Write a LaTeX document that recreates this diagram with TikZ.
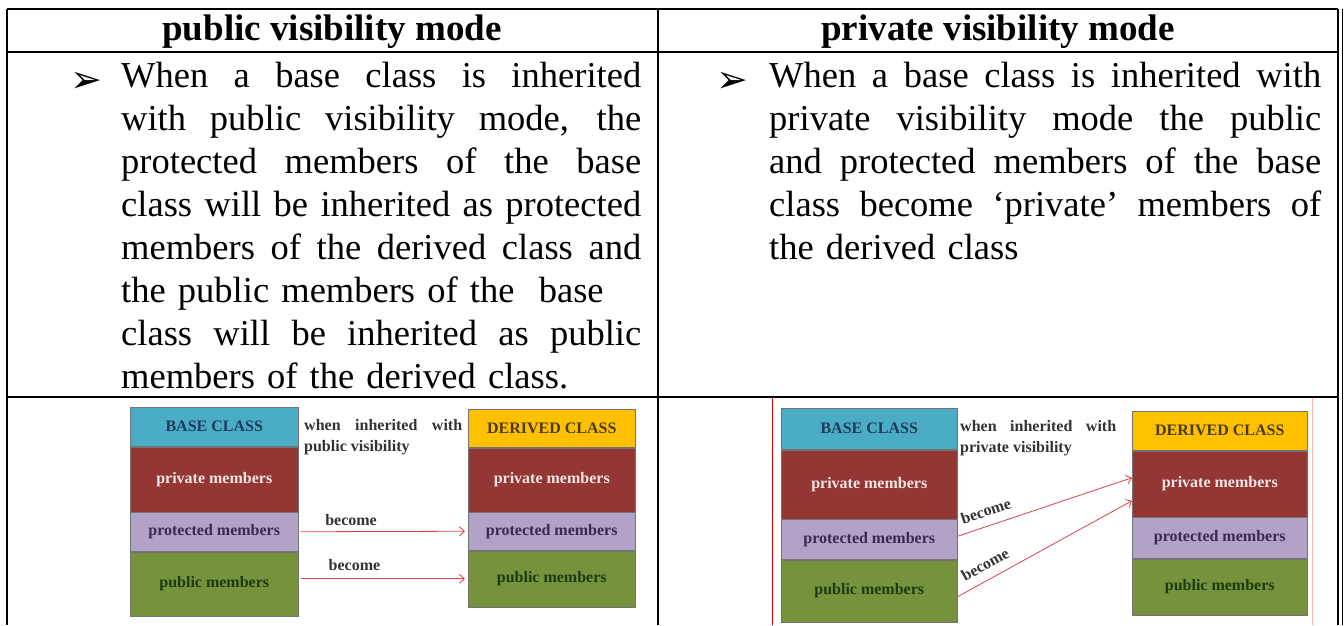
\documentclass[tikz,border=0pt]{standalone}
\usepackage{fontspec}
\setmainfont{Liberation Serif}
\newfontfamily\dejavu{DejaVu Sans}
\usetikzlibrary{positioning,arrows.meta}

\definecolor{baseblue}{HTML}{4BACC6}
\definecolor{privred}{HTML}{943634}
\definecolor{protlav}{HTML}{B3A2C7}
\definecolor{pubgreen}{HTML}{76923C}
\definecolor{derivgold}{HTML}{FFC000}
\definecolor{linkred}{HTML}{D9434B}
\definecolor{basetxt}{HTML}{1F3A5A}
\definecolor{privtxt}{HTML}{F6E6E2}
\definecolor{prottxt}{HTML}{3B2A50}
\definecolor{pubtxt}{HTML}{1E3A10}
\definecolor{derivtxt}{HTML}{4A3A10}

% one justified line of the paragraph
\newcommand{\fullline}[1]{\makebox[\hsize][s]{\spaceskip=0pt\xspaceskip=0pt\relax #1}}

\begin{document}
\begin{tikzpicture}[x=1pt, y=-1pt, node distance=0pt, >={Straight Barb[length=5pt,width=9pt]},
    rule/.style={line width=2pt},
    head/.style={font=\fontsize{37}{43}\selectfont\bfseries, anchor=base, inner sep=0pt},
    para/.style={font=\fontsize{36.5}{43}\selectfont, anchor=north west, inner sep=0pt, align=left},
    bulletmark/.style={font=\dejavu\fontsize{38}{38}\selectfont, inner sep=0pt},
    layer/.style={draw=black!55, line width=0.5pt, inner sep=0pt, font=\fontsize{16}{18}\selectfont\bfseries},
    note/.style={font=\fontsize{16}{21}\selectfont\bfseries, text=black!80, inner sep=0pt, align=left, anchor=north west},
    link/.style={->, draw=linkred, line width=0.8pt},
    tag/.style={font=\fontsize{16}{18}\selectfont\bfseries, text=black!80, inner sep=2pt}]
    \useasboundingbox (0,0) rectangle (1344,625);
    % Table rules
    \draw[rule] (7,9) -- (1338,9);
    \draw[rule] (7,52) -- (1338,52);
    \draw[rule] (7,397) -- (1338,397);
    \draw[rule] (7,9) -- (7,625);
    \draw[rule] (658,9) -- (658,625);
    \draw[rule] (1338,9) -- (1338,625);
    \draw[line width=0.8pt] (1342,9) -- (1342,625);
    % Headings
    \node[head] (pubhead) at (332,40) {public visibility mode};
    \node[head] (privhead) at (998,40) {private visibility mode};
    % Bullet texts
    \node[bulletmark] (pubmark) at (86,82) {➢};
    \node[para, text width=520pt] (pubtext) at (121,57) {\strut\fullline{When a base class is inherited}\\
        \fullline{with public visibility mode, the}\\
        \fullline{protected members of the base}\\
        \fullline{class will be inherited as protected}\\
        \fullline{members of the derived class and}\\
        the public members of the~~base\\
        \fullline{class will be inherited as public}\\
        members of the derived class.};
    \node[bulletmark] (privmark) at (732,82) {➢};
    \node[para, text width=552pt] (privtext) at (769,57) {\strut\fullline{When a base class is inherited with}\\
        \fullline{private visibility mode the public}\\
        \fullline{and protected members of the base}\\
        \fullline{class become ‘private’ members of}\\
        the derived class};
    % Public inheritance picture
    \node[layer, fill=baseblue, text=basetxt, minimum width=168pt, minimum height=39pt, anchor=north west] (lbase) at (130,407) {BASE CLASS};
    \node[layer, fill=privred, text=privtxt, minimum width=168pt, minimum height=65pt, below=of lbase] (lpriv) {private members};
    \node[layer, fill=protlav, text=prottxt, minimum width=168pt, minimum height=39pt, below=of lpriv] (lprot) {protected members};
    \node[layer, fill=pubgreen, text=pubtxt, minimum width=168pt, minimum height=64pt, below=of lprot] (lpub) {public members};
    \node[layer, fill=derivgold, text=derivtxt, minimum width=167pt, minimum height=38pt, anchor=north west] (lderiv) at (468,409) {DERIVED CLASS};
    \node[layer, fill=privred, text=privtxt, minimum width=167pt, minimum height=64pt, below=of lderiv] (ldpriv) {private members};
    \node[layer, fill=protlav, text=prottxt, minimum width=167pt, minimum height=38pt, below=of ldpriv] (ldprot) {protected members};
    \node[layer, fill=pubgreen, text=pubtxt, minimum width=167pt, minimum height=56pt, below=of ldprot] (ldpub) {public members};
    \node[note] (lnote) at (304,419) {\makebox[158pt][s]{when inherited with}\\public visibility};
    \draw[link, shorten <=2pt, shorten >=3pt] (lprot.east) -- node[tag, above=4pt, pos=0.31] (lbecome1) {become} (ldprot.west);
    \draw[link, shorten <=2pt, shorten >=3pt] (lpub.east |- ldpub.west) -- node[tag, above=6pt, pos=0.33] (lbecome2) {become} (ldpub.west);
    % Private inheritance picture
    \draw[draw=red!80!black, line width=0.8pt] (772,398) -- (772,625);
    \draw[draw=red!30, line width=0.8pt] (1312,398) -- (1312,625);
    \node[layer, fill=baseblue, text=basetxt, minimum width=176pt, minimum height=41pt, anchor=north west] (rbase) at (781,408) {BASE CLASS};
    \node[layer, fill=privred, text=privtxt, minimum width=176pt, minimum height=69pt, below=of rbase] (rpriv) {private members};
    \node[layer, fill=protlav, text=prottxt, minimum width=176pt, minimum height=40pt, below=of rpriv] (rprot) {protected members};
    \node[layer, fill=pubgreen, text=pubtxt, minimum width=176pt, minimum height=62pt, below=of rprot] (rpub) {public members};
    \node[layer, fill=derivgold, text=derivtxt, minimum width=175pt, minimum height=39pt, anchor=north west] (rderiv) at (1132,411) {DERIVED CLASS};
    \node[layer, fill=privred, text=privtxt, minimum width=175pt, minimum height=66pt, below=of rderiv] (rdpriv) {private members};
    \node[layer, fill=protlav, text=prottxt, minimum width=175pt, minimum height=41pt, below=of rdpriv] (rdprot) {protected members};
    \node[layer, fill=pubgreen, text=pubtxt, minimum width=175pt, minimum height=56pt, below=of rdprot] (rdpub) {public members};
    \node[note] (rnote) at (960,420) {\makebox[156pt][s]{when inherited with}\\private visibility};
    \draw[link] ([yshift=3pt]rprot.east) -- node[tag, above=7pt, sloped, pos=0.19] (rbecome1) {become} ([yshift=6pt]rdpriv.west);
    \draw[link] ([yshift=-6pt]rpub.east) -- node[tag, above=7pt, sloped, pos=0.2] (rbecome2) {become} ([yshift=-17pt]rdpriv.west);
\end{tikzpicture}
\end{document}
